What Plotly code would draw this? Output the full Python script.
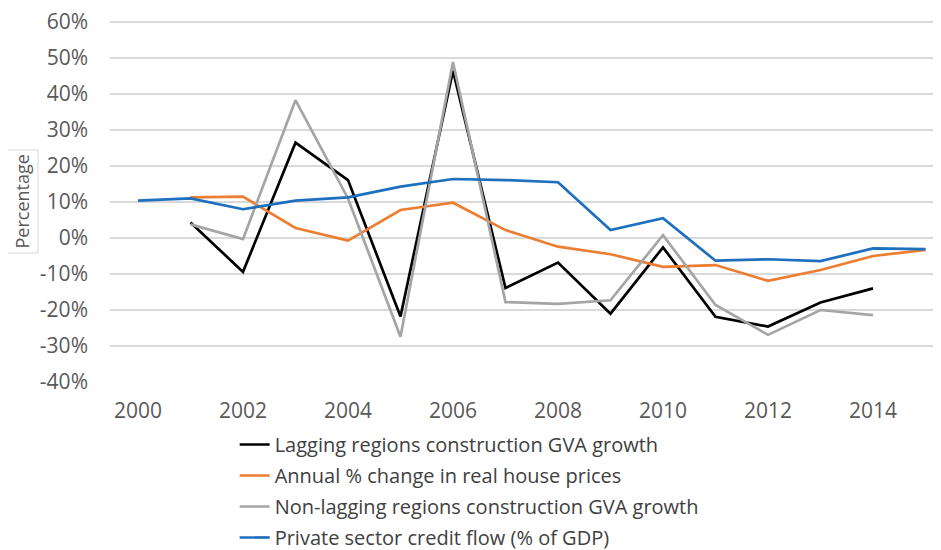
import plotly.graph_objects as go

years = list(range(2000, 2016))

lagging = [None, 4.3, -9.4, 26.5, 16.1, -21.8, 46.5, -13.9, -6.8, -21.0, -2.6, -21.9, -24.6, -17.9, -14.0, None]
house = [None, 11.3, 11.5, 2.8, -0.7, 7.8, 9.8, 2.2, -2.4, -4.5, -8.0, -7.5, -11.9, -8.9, -5.0, -3.3]
nonlag = [None, 3.8, -0.3, 38.3, 11.0, -27.4, 48.9, -17.8, -18.3, -17.3, 0.8, -18.6, -26.9, -20.0, -21.4, None]
credit = [10.4, 11.0, 8.0, 10.4, 11.3, 14.3, 16.4, 16.1, 15.5, 2.2, 5.5, -6.3, -5.9, -6.4, -2.9, -3.1]

names = [
    "Lagging regions construction GVA growth",
    "Annual % change in real house prices",
    "Non-lagging regions construction GVA growth",
    "Private sector credit flow (% of GDP)",
]
series = [lagging, house, nonlag, credit]
colors = ["#000000", "#ED7D31", "#A5A5A5", "#1F6FBF"]

yticks = list(range(-40, 70, 10))
xticks = list(range(2000, 2015, 2))

fig = go.Figure()
for i, (nm, ys, c) in enumerate(zip(names, series, colors)):
    fig.add_trace(go.Scatter(
        x=years, y=ys, name=nm, mode="lines",
        line=dict(color=c, width=2.7),
        legendgroup=f"g{i}",
        connectgaps=False,
    ))

font_family = "Open Sans, Segoe UI, DejaVu Sans, sans-serif"

L, T, R, B = 102, 13, 8, 176
PH = 550 - T - B
PW = 941 - L - R
YMAX = 60.3

fig.update_layout(
    width=941, height=550,
    margin=dict(l=L, r=R, t=T, b=B, autoexpand=False),
    paper_bgcolor="white", plot_bgcolor="white",
    font=dict(family=font_family, size=20, color="#595959"),
    showlegend=True,
    legend=dict(
        x=0.150, y=-(417 - (550 - B)) / PH, xanchor="left", yanchor="top",
        orientation="v",
        font=dict(size=20, color="#404040"),
        tracegroupgap=2,
        itemwidth=30,
        bgcolor="rgba(0,0,0,0)",
    ),
    xaxis=dict(
        range=[1999.467, 2015.295],
        tickmode="array", tickvals=xticks, ticktext=[str(v) for v in xticks],
        showgrid=False, zeroline=False, showline=False,
        ticks="", ticklabelstandoff=14,
        tickfont=dict(size=21, color="#595959"),
    ),
    yaxis=dict(
        range=[-40, YMAX],
        tickmode="array", tickvals=yticks, ticktext=[f"{v}%" for v in yticks],
        showgrid=True, gridcolor="#D9D9D9", gridwidth=1.5,
        zeroline=False, showline=False,
        ticks="", ticklabelstandoff=21,
        ticklabeloverflow="allow",
        tickfont=dict(size=21, color="#595959"),
    ),
    annotations=[dict(
        text="Percentage", textangle=-90,
        xref="paper", yref="paper",
        x=(13 - L) / PW, y=((550 - B) - 193.5) / PH,
        xanchor="center", yanchor="middle",
        showarrow=False,
        font=dict(size=18, color="#595959"),
        bordercolor="#D9D9D9", borderwidth=1, borderpad=4,
        bgcolor="white",
    )],
)

fig.write_html("out.html")
